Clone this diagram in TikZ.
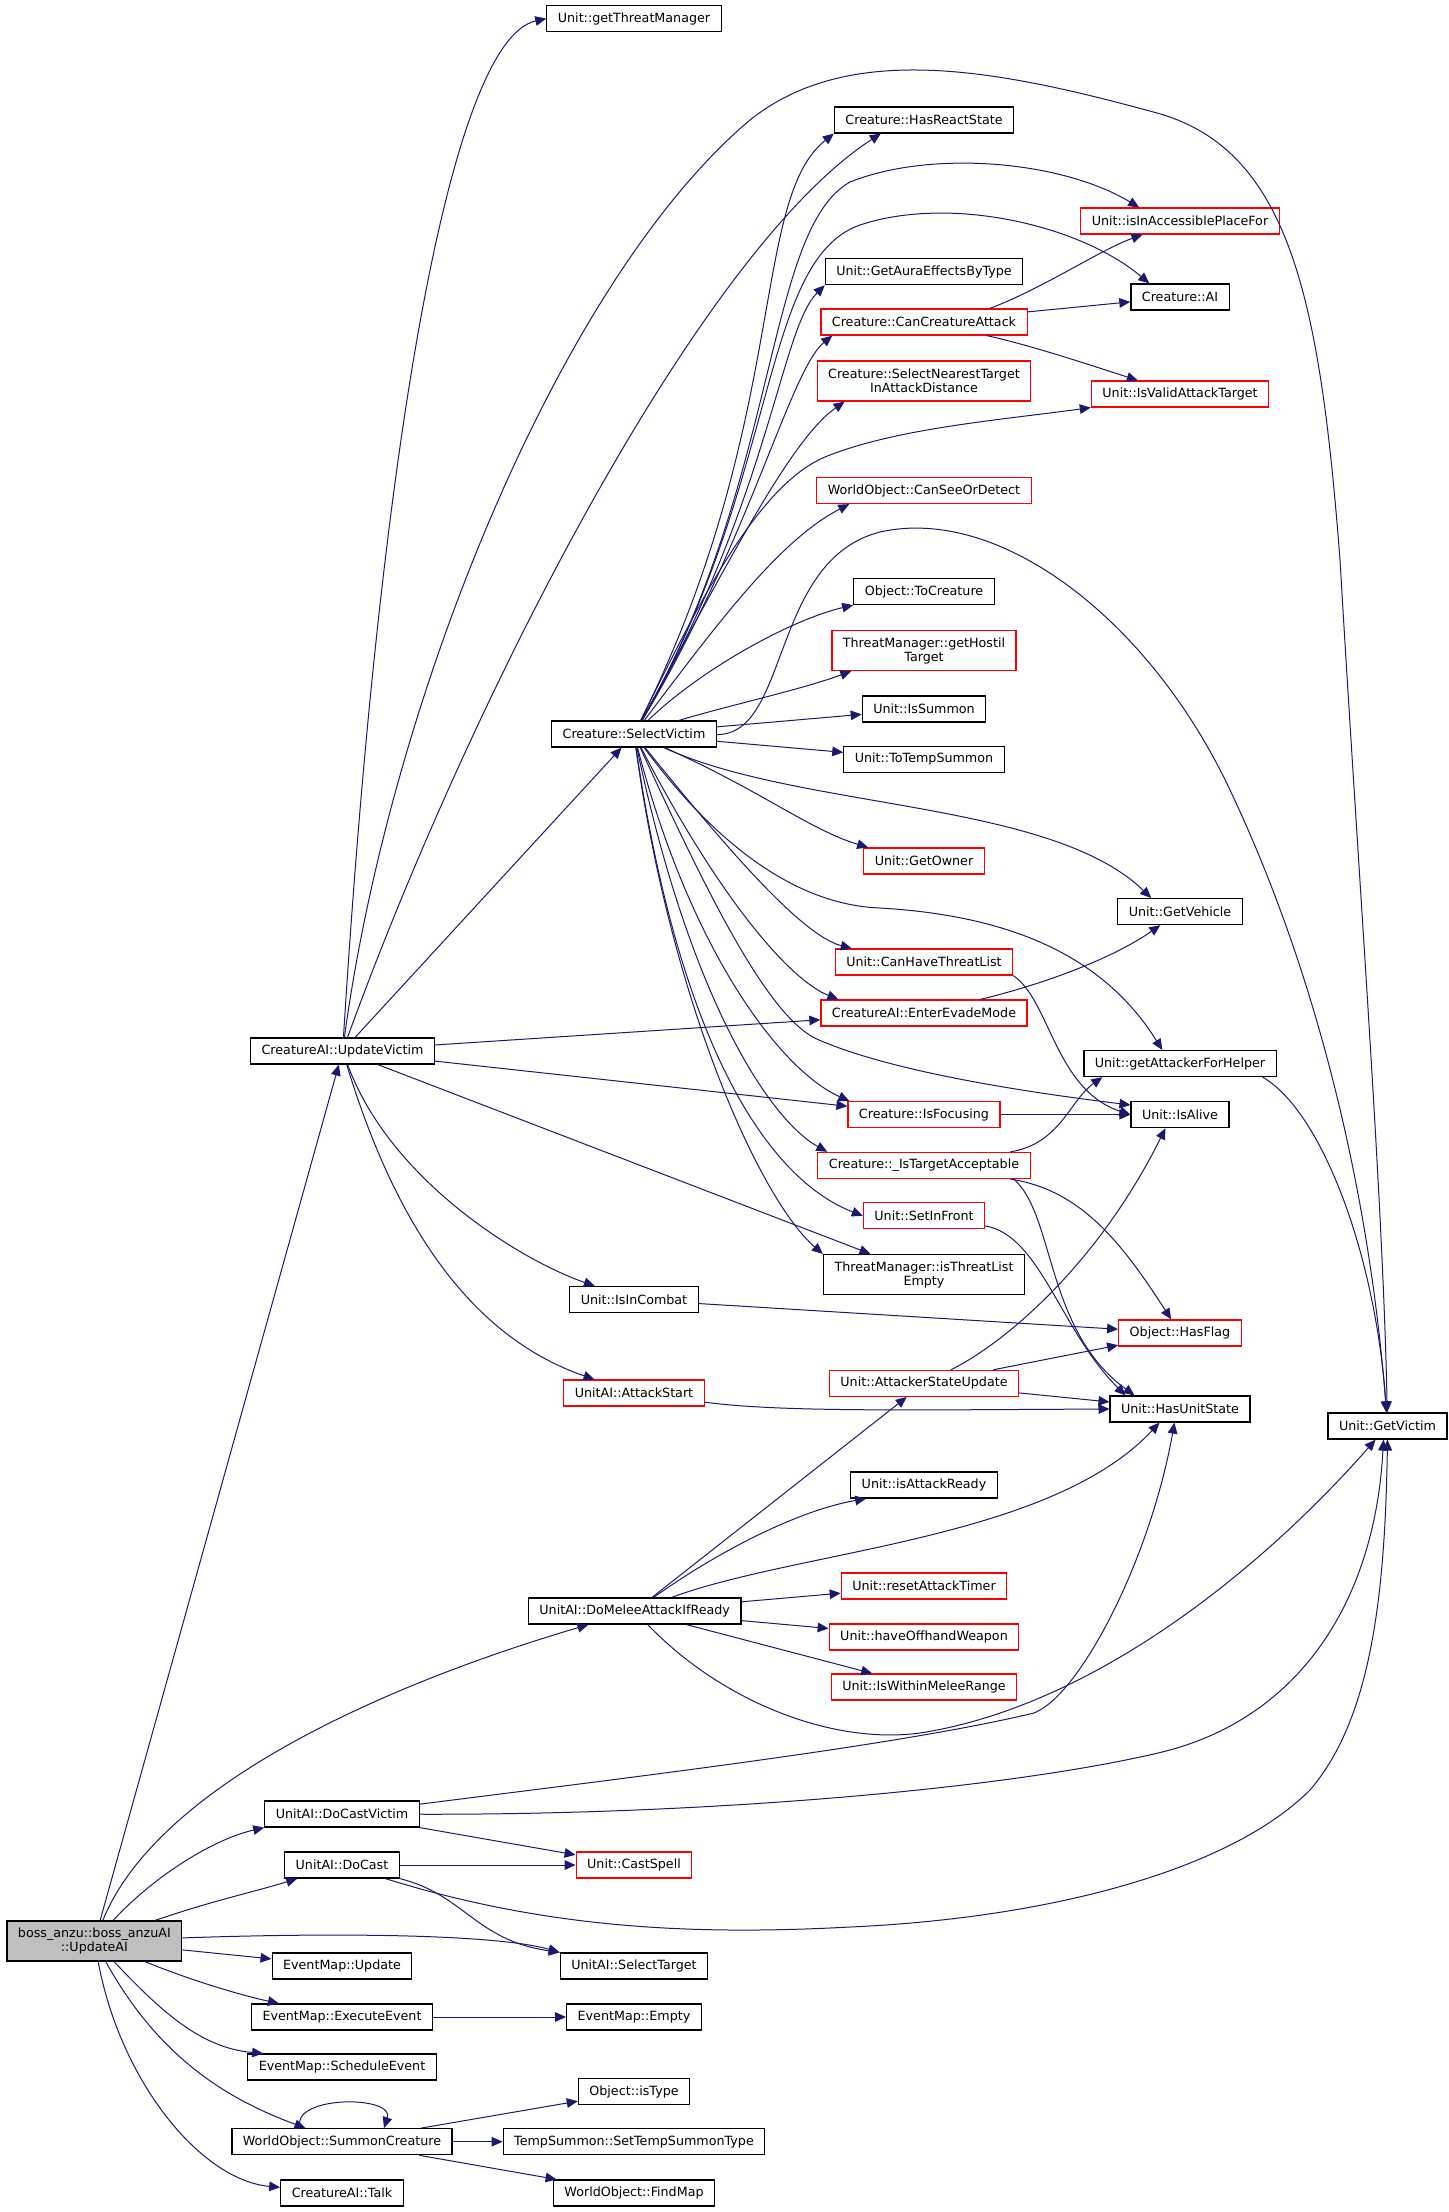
\documentclass[tikz,border=0pt]{standalone}
\usepackage{fontspec}
\usetikzlibrary{arrows.meta,calc}
\newfontfamily\dejavu{DejaVu Sans}
\newcommand{\fnfont}{\dejavu\fontsize{6.35}{7}\selectfont}
\definecolor{edgeblue}{HTML}{191970}
\begin{document}
\begin{tikzpicture}[x=0.5pt, y=-0.5pt,
    fn/.style={draw=black, line width=0.6pt, fill=white, font=\fnfont, inner xsep=5.5pt, inner ysep=0pt, minimum height=13pt, align=center},
    fnred/.style={fn, draw=red},
    fntwo/.style={minimum height=20pt},
    fnroot/.style={fn, fntwo, fill=gray!50},
    call/.style={draw=edgeblue, line width=0.5pt, -{Triangle[length=5.5pt, width=4.8pt]}}]
    \useasboundingbox (0,0) rectangle (1449,2212);
    \node[fn] (gtm) at (634, 18.6) {Unit::getThreatManager};
    \node[fn] (hrs) at (924, 120) {Creature::HasReactState};
    \node[fnred] (iap) at (1180, 221) {Unit::isInAccessiblePlaceFor};
    \node[fn] (gae) at (924, 271.6) {Unit::GetAuraEffectsByType};
    \node[fn] (cai) at (1180, 297) {Creature::AI};
    \node[fnred] (cca) at (924, 322) {Creature::CanCreatureAttack};
    \node[fnred, fntwo] (snt) at (924, 381) {Creature::SelectNearestTarget\\InAttackDistance};
    \node[fnred] (iva) at (1180, 394) {Unit::IsValidAttackTarget};
    \node[fnred] (csd) at (924, 490.5) {WorldObject::CanSeeOrDetect};
    \node[fn] (toc) at (924, 591.5) {Object::ToCreature};
    \node[fnred, fntwo] (ght) at (924, 650.5) {ThreatManager::getHostil\\Target};
    \node[fn] (isu) at (924, 709) {Unit::IsSummon};
    \node[fn] (sv) at (634, 734) {Creature::SelectVictim};
    \node[fn] (tts) at (924, 759.4) {Unit::ToTempSummon};
    \node[fnred] (gow) at (924, 861) {Unit::GetOwner};
    \node[fn] (gve) at (1180, 911.6) {Unit::GetVehicle};
    \node[fnred] (chl) at (924, 962) {Unit::CanHaveThreatList};
    \node[fnred] (eem) at (924, 1013) {CreatureAI::EnterEvadeMode};
    \node[fn] (uv) at (342.6, 1051) {CreatureAI::UpdateVictim};
    \node[fn] (gah) at (1180, 1063.6) {Unit::getAttackerForHelper};
    \node[fnred] (ifo) at (924, 1114.6) {Creature::IsFocusing};
    \node[fn] (ial) at (1180, 1114.6) {Unit::IsAlive};
    \node[fnred] (ita) at (924, 1165.4) {Creature::\_IsTargetAcceptable};
    \node[fnred] (sif) at (924, 1215.8) {Unit::SetInFront};
    \node[fn, fntwo] (tle) at (924, 1274.5) {ThreatManager::isThreatList\\Empty};
    \node[fn] (iic) at (634, 1299.6) {Unit::IsInCombat};
    \node[fnred] (hfl) at (1180, 1333) {Object::HasFlag};
    \node[fnred] (ast) at (634, 1393) {UnitAI::AttackStart};
    \node[fnred] (asu) at (924, 1383.4) {Unit::AttackerStateUpdate};
    \node[fn] (hus) at (1180, 1409) {Unit::HasUnitState};
    \node[fn] (gvi) at (1387.5, 1426) {Unit::GetVictim};
    \node[fn] (iar) at (924, 1485) {Unit::isAttackReady};
    \node[fnred] (rat) at (924, 1586) {Unit::resetAttackTimer};
    \node[fn] (dma) at (634.7, 1611) {UnitAI::DoMeleeAttackIfReady};
    \node[fnred] (how) at (924, 1637) {Unit::haveOffhandWeapon};
    \node[fnred] (iwm) at (924, 1687) {Unit::IsWithinMeleeRange};
    \node[fn] (dcv) at (342, 1814) {UnitAI::DoCastVictim};
    \node[fn] (dca) at (342, 1865) {UnitAI::DoCast};
    \node[fnred] (cas) at (634, 1865) {Unit::CastSpell};
    \node[fnroot] (boss) at (94.4, 1941) {boss\_anzu::boss\_anzuAI\\::UpdateAI};
    \node[fn] (emu) at (342, 1966) {EventMap::Update};
    \node[fn] (sta) at (634, 1966) {UnitAI::SelectTarget};
    \node[fn] (eee) at (342, 2017) {EventMap::ExecuteEvent};
    \node[fn] (eme) at (634, 2017) {EventMap::Empty};
    \node[fn] (ese) at (342, 2067) {EventMap::ScheduleEvent};
    \node[fn] (ist) at (634, 2091.5) {Object::isType};
    \node[fn] (wsc) at (342, 2141.7) {WorldObject::SummonCreature};
    \node[fn] (tst) at (634, 2141.7) {TempSummon::SetTempSummonType};
    \node[fn] (talk) at (342, 2193) {CreatureAI::Talk};
    \node[fn] (fmp) at (634, 2193) {WorldObject::FindMap};

    \draw[call] (boss) -- (uv);
    \draw[call] (boss) .. controls (160,1780) and (400,1680) .. (dma);
    \draw[call] (boss) .. controls (150,1880) and (210,1840) .. (dcv.south west);
    \draw[call] (boss) .. controls (215,1900) and (250,1893) .. (dca);
    \draw[call] (boss) .. controls (350,1932) and (500,1935) .. (sta.north west);
    \draw[call] (boss) -- (emu);
    \draw[call] (boss) .. controls (190,1980) and (240,1995) .. (eee);
    \draw[call] (boss) .. controls (160,2010) and (200,2048) .. ($(ese.north west)+(16,0)$);
    \draw[call] (boss) .. controls (160,2060) and (230,2100) .. (wsc);
    \draw[call] (boss) .. controls (120,2080) and (200,2180) .. (talk);

    \draw[call] (uv) .. controls (380,450) and (450,40) .. (gtm.west);
    \draw[call] (uv) .. controls (390,700) and (560,280) .. (750,120) .. controls (850,40) and (1000,70) .. (1157,113) .. controls (1290,150) and (1320,300) .. (1340,560) .. controls (1360,900) and (1383,1200) .. (gvi);
    \draw[call] (uv) .. controls (470,700) and (700,250) .. ($(hrs.south west)+(47,0)$);
    \draw[call] (uv) -- (sv);
    \draw[call] (uv) -- (eem);
    \draw[call] (uv) -- (ifo);
    \draw[call] (uv) -- (tle);
    \draw[call] (uv) .. controls (390,1180) and (520,1260) .. (iic);
    \draw[call] (uv) .. controls (400,1240) and (480,1340) .. (ast);

    \draw[call] (sv) .. controls (790,420) and (750,200) .. (hrs.south west);
    \draw[call] (sv) .. controls (780,480) and (765,230) .. (850,182) .. controls (930,150) and (1060,160) .. ($(iap.north west)+(59,0)$);
    \draw[call] (sv) .. controls (780,480) and (760,260) .. (860,225) .. controls (950,195) and (1080,225) .. ($(cai.north west)+(19,0)$);
    \draw[call] (sv) .. controls (770,500) and (780,330) .. (gae.south west);
    \draw[call] (sv) .. controls (750,540) and (790,370) .. ($(cca.south west)+(12,0)$);
    \draw[call] (sv) .. controls (730,560) and (790,440) .. ($(snt.south west)+(28,0)$);
    \draw[call] (sv) .. controls (700,600) and (760,480) .. (830,455) .. controls (900,428) and (1000,420) .. (iva.south west);
    \draw[call] (sv) .. controls (720,620) and (780,540) .. ($(csd.south west)+(33,0)$);
    \draw[call] (sv) .. controls (790,735) and (770,560) .. (880,532) .. controls (1000,505) and (1150,620) .. (1230,790) .. controls (1320,980) and (1370,1200) .. (gvi);
    \draw[call] (sv) .. controls (700,670) and (790,620) .. (toc.south west);
    \draw[call] (sv) .. controls (730,705) and (800,690) .. ($(ght.south west)+(20,0)$);
    \draw[call] (sv) -- (isu);
    \draw[call] (sv) -- (tts);
    \draw[call] (sv) .. controls (760,790) and (810,830) .. ($(gow.north west)+(5,0)$);
    \draw[call] (sv) .. controls (800,810) and (1050,800) .. ($(gve.north west)+(34,0)$);
    \draw[call] (sv) .. controls (720,840) and (800,935) .. ($(chl.north west)+(17,0)$);
    \draw[call] (sv) .. controls (720,900) and (790,980) .. ($(eem.north west)+(18,0)$);
    \draw[call] (sv) .. controls (720,850) and (800,905) .. (880,908) .. controls (1000,915) and (1100,950) .. ($(gah.north west)+(79,0)$);
    \draw[call] (sv) .. controls (710,900) and (770,1020) .. (819,1040) .. controls (900,1075) and (1050,1095) .. ($(ial.north west)+(0,4)$);
    \draw[call] (sv) .. controls (690,950) and (780,1070) .. ($(ifo.north west)+(2,0)$);
    \draw[call] (sv) .. controls (690,1000) and (770,1120) .. ($(ita.north west)+(10,0)$);
    \draw[call] (sv) .. controls (680,1050) and (770,1180) .. (sif.west);
    \draw[call] (sv) .. controls (670,1000) and (760,1200) .. (tle.north west);

    \draw[call] ($(cca.north east)+(-38,0)$) .. controls (1040,290) and (1100,250) .. (iap);
    \draw[call] (cca) -- (cai);
    \draw[call] (cca) .. controls (1030,345) and (1090,365) .. (iva);
    \draw[call] (chl.south east) .. controls (1050,1000) and (1055,1090) .. (ial.west);
    \draw[call] (eem) .. controls (1040,985) and (1110,960) .. (gve);
    \draw[call] (ifo) -- (ial);
    \draw[call] (ita) .. controls (1060,1144) and (1070,1100) .. ($(gah.south west)+(19,0)$);
    \draw[call] (ita) .. controls (1080,1190) and (1120,1240) .. (hfl);
    \draw[call] ($(ita.south east)+(-17,0)$) .. controls (1055,1215) and (1045,1330) .. ($(hus.north west)+(25,0)$);
    \draw[call] (sif) .. controls (1040,1235) and (1060,1330) .. ($(hus.north west)+(16,0)$);
    \draw[call] ($(gah.south east)+(-14,0)$) .. controls (1320,1110) and (1375,1250) .. (gvi);
    \draw[call] (iic) -- (hfl);
    \draw[call] (ast) .. controls (780,1412) and (900,1410) .. (hus.west);
    \draw[call] (asu) .. controls (1010,1340) and (1100,1260) .. ($(ial.south west)+(35,0)$);
    \draw[call] (asu) -- (hfl);
    \draw[call] (asu) -- (hus);

    \draw[call] (dma) -- (asu);
    \draw[call] (dma) .. controls (720,1550) and (800,1510) .. ($(iar.south west)+(16,0)$);
    \draw[call] (dma) .. controls (800,1550) and (1050,1540) .. ($(hus.south west)+(50,0)$);
    \draw[call] (dma) -- (rat);
    \draw[call] (dma) -- (how);
    \draw[call] (dma) -- (iwm);
    \draw[call] (dma) .. controls (720,1700) and (830,1745) .. (920,1733) .. controls (1100,1705) and (1270,1560) .. ($(gvi.south west)+(48,0)$);
    \draw[call] (dcv) .. controls (650,1775) and (900,1745) .. (1034,1713) .. controls (1080,1695) and (1150,1560) .. ($(hus.south west)+(65,0)$);
    \draw[call] (dcv) .. controls (700,1815) and (1000,1790) .. (1158,1753) .. controls (1300,1720) and (1375,1600) .. ($(gvi.south west)+(56,0)$);
    \draw[call] (dcv) -- (cas);
    \draw[call] (dca) -- (cas);
    \draw[call] (dca.south east) .. controls (465,1895) and (475,1940) .. (sta.north west);
    \draw[call] (dca) .. controls (550,1930) and (700,1935) .. (850,1927) .. controls (1050,1918) and (1230,1870) .. (1310,1790) .. controls (1370,1720) and (1385,1600) .. ($(gvi.south west)+(60,0)$);
    \draw[call] (eee) -- (eme);
    \draw[call] ($(wsc.north)+(-42,0)$) .. controls (290,2095) and (395,2095) .. ($(wsc.north)+(42,0)$);
    \draw[call] (wsc) -- (ist);
    \draw[call] (wsc) -- (tst);
    \draw[call] (wsc) -- (fmp);
\end{tikzpicture}
\end{document}
